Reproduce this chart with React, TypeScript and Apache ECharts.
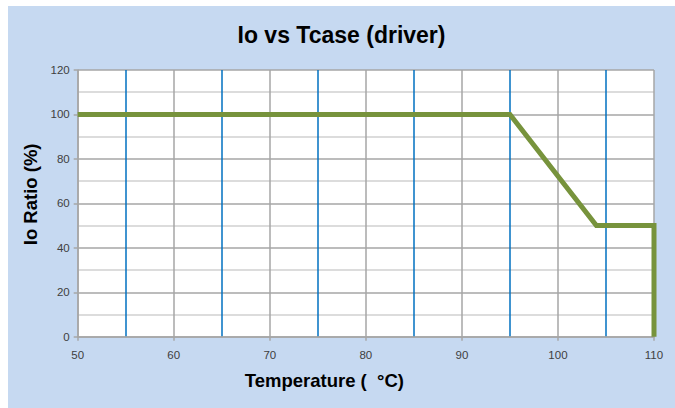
import React, { useEffect, useRef } from "react";
import * as echarts from "echarts";

const titleText = "Io vs Tcase (driver)";
const xAxisName = "Temperature (  °C)";
const yAxisName = "Io Ratio (%)";
const temperatures = [50, 95, 104, 110, 110];
const ioRatio = [100, 100, 50, 50, 0];
const xRange = [50, 110];
const yRange = [0, 120];

export default function App() {
  const ref = useRef<HTMLDivElement>(null);
  useEffect(() => {
    if (!ref.current) return;
    const chart = echarts.init(ref.current, null, { renderer: "svg" });
    const font = "'Liberation Sans', Arial, sans-serif";
    chart.setOption({
      animation: false,
      backgroundColor: "#c6d9f1",
      textStyle: { fontFamily: font },
      title: {
        text: titleText,
        left: "center",
        top: 12,
        textStyle: { fontSize: 23, fontWeight: "bold", color: "#000", fontFamily: font },
      },
      grid: {
        left: 69.7,
        top: 64,
        right: 21,
        bottom: 71.3,
        show: true,
        backgroundColor: "#ffffff",
        borderWidth: 0,
      },
      xAxis: {
        type: "value",
        min: xRange[0],
        max: xRange[1],
        interval: 10,
        name: xAxisName,
        nameLocation: "middle",
        nameGap: 34,
        nameTextStyle: { fontSize: 18.5, fontWeight: "bold", color: "#000", padding: [0, 83, 0, 0] },
        axisLine: { show: true, lineStyle: { color: "#a6a6a6", width: 1.5 } },
        axisTick: { show: true, length: 4, lineStyle: { color: "#a6a6a6", width: 1.5 } },
        axisLabel: { fontSize: 11.5, color: "#404040", margin: 12 },
        splitLine: { show: true, lineStyle: { color: "#a6a6a6", width: 1.5 } },
        minorTick: { show: false, splitNumber: 2 },
        minorSplitLine: { show: true, lineStyle: { color: "#0070c0", width: 1.5 } },
      },
      yAxis: {
        type: "value",
        min: yRange[0],
        max: yRange[1],
        interval: 20,
        name: yAxisName,
        nameLocation: "middle",
        nameGap: 34,
        nameTextStyle: { fontSize: 18.5, fontWeight: "bold", color: "#000", padding: [0, 0, 0, 18] },
        axisLine: { show: true, lineStyle: { color: "#a6a6a6", width: 1.5 } },
        axisTick: { show: true, length: 4, lineStyle: { color: "#a6a6a6", width: 1.5 } },
        axisLabel: { fontSize: 11.5, color: "#404040", margin: 8 },
        splitLine: { show: true, lineStyle: { color: "#a6a6a6", width: 1.5 } },
        minorTick: { show: false, splitNumber: 2 },
        minorSplitLine: { show: true, lineStyle: { color: "#d0d0d0", width: 1.5 } },
      },
      series: [
        {
          type: "line",
          data: temperatures.map((t, i) => [t, ioRatio[i]]),
          showSymbol: false,
          symbol: "none",
          lineStyle: { color: "#77933c", width: 5, join: "miter" },
          clip: false,
        },
      ],
    });
    return () => chart.dispose();
  }, []);
  return (
    <div
      ref={ref}
      style={{ position: "absolute", left: 8, top: 6, width: 667, height: 402 }}
    />
  );
}
